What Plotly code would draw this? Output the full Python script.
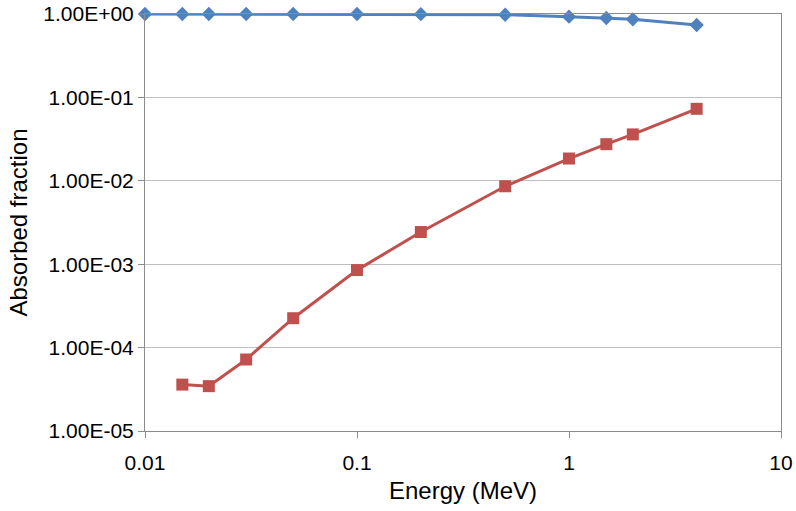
import plotly.graph_objects as go

energy_blue = [0.01, 0.015, 0.02, 0.03, 0.05, 0.1, 0.2, 0.5, 1, 1.5, 2, 4]
frac_blue = [1.0, 1.0, 1.0, 1.0, 1.0, 1.0, 0.995, 0.98, 0.93, 0.895, 0.864, 0.738]
energy_red = [0.015, 0.02, 0.03, 0.05, 0.1, 0.2, 0.5, 1, 1.5, 2, 4]
frac_red = [3.6e-5, 3.45e-5, 7.2e-5, 2.25e-4, 8.5e-4, 2.43e-3, 8.6e-3, 1.85e-2, 2.75e-2, 3.6e-2, 7.3e-2]

x_ticks = [0.01, 0.1, 1, 10]
x_labels = ["0.01", "0.1", "1", "10"]
y_ticks = [1e-5, 1e-4, 1e-3, 1e-2, 1e-1, 1]
y_labels = ["1.00E-05", "1.00E-04", "1.00E-03", "1.00E-02", "1.00E-01", "1.00E+00"]

fig = go.Figure()
fig.add_trace(go.Scatter(x=energy_blue, y=frac_blue, mode="lines+markers",
                         line=dict(color="#4F81BD", width=3),
                         marker=dict(symbol="diamond", size=11, color="#4F81BD"),
                         cliponaxis=False, showlegend=False))
fig.add_trace(go.Scatter(x=energy_red, y=frac_red, mode="lines+markers",
                         line=dict(color="#C0504D", width=3),
                         marker=dict(symbol="square", size=12, color="#C0504D"),
                         cliponaxis=False, showlegend=False))

tick_font = dict(family="Liberation Sans, Arial, sans-serif", size=21, color="black")
title_font = dict(family="Liberation Sans, Arial, sans-serif", size=24, color="black")
fig.update_layout(
    width=796, height=511,
    margin=dict(l=145, r=15, t=14, b=80),
    paper_bgcolor="white", plot_bgcolor="white",
    xaxis=dict(type="log", range=[-2, 1], tickvals=x_ticks, ticktext=x_labels,
               tickfont=tick_font, automargin=False, ticklabeloverflow="allow",
               ticklabelstandoff=7,
               showgrid=False, showline=True, linecolor="#8C8C8C", linewidth=1,
               mirror=True, ticks="outside", ticklen=6, tickcolor="#8C8C8C",
               title=dict(text="Energy (MeV)", font=title_font, standoff=8), zeroline=False),
    yaxis=dict(type="log", range=[-5, 0], tickvals=y_ticks, ticktext=y_labels,
               tickfont=tick_font, automargin=False, ticklabeloverflow="allow",
               showgrid=True, gridcolor="#BEBEBE", gridwidth=1,
               showline=True, linecolor="#8C8C8C", linewidth=1,
               mirror=True, ticks="outside", ticklen=6, tickcolor="#8C8C8C",
               title=dict(text="Absorbed fraction", font=title_font, standoff=8), zeroline=False),
)
fig.write_html("out.html", config={"displayModeBar": False},
               post_script="document.body.style.margin='0';")
